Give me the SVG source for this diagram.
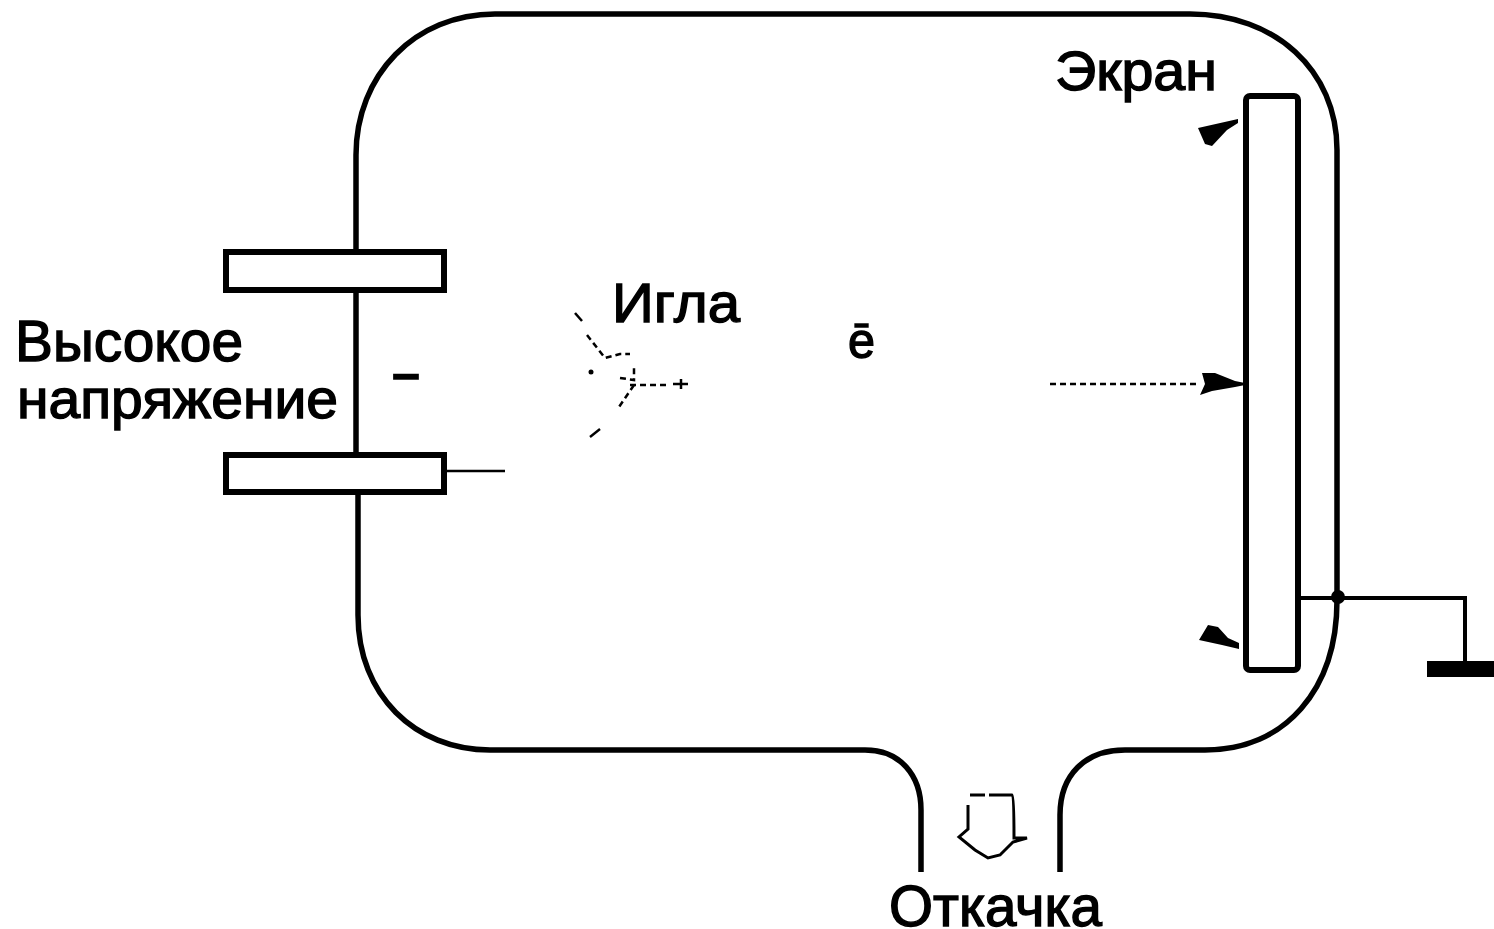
<svg xmlns="http://www.w3.org/2000/svg" width="1494" height="929" viewBox="0 0 1494 929">
<style>
.w{fill:none;stroke:#000;stroke-width:5.5}
.g{fill:none;stroke:#000;stroke-width:4}
.p{fill:none;stroke:#000;stroke-width:3}
.b{fill:#fff;stroke:#000;stroke-width:6}
.d{fill:none;stroke:#000;stroke-width:2.5;stroke-dasharray:6 4}
.t{fill:none;stroke:#000;stroke-width:2.5}
.a{fill:#000;stroke:none}
text{font-family:"Liberation Sans",Arial,sans-serif;fill:#000;stroke:#000;stroke-width:1.4}
</style>
<rect width="1494" height="929" fill="#fff"/>
<g id="connectors">
<path class="w" d="M356 251V155C356 75 415 14 495 14H1190C1275 14 1337 70 1337 150V600C1337 690 1285 750 1205 750H1125C1085 750 1060 775 1060 815V872"/>
<path class="w" d="M921 872V810C921 775 900 750 865 750H490C415 750 358 695 358 615V493"/>
<path class="w" d="M356 291V453"/>
<path class="g" d="M1298 598H1465V662"/>
<path class="t" d="M445 471H505"/>
<path class="d" d="M1050 384H1200"/>
<path class="t" d="M575 313L582 321"/>
<path class="d" d="M587 335L605 358L620 354H630"/>
<path class="d" d="M620 378L634 380V367M630 385H668"/>
<path class="t" d="M673 384H688M681 379V389"/>
<path class="d" d="M634 385L619 407"/>
<path class="t" d="M590 437L600 429"/>
<circle class="a" cx="591" cy="372" r="2.5"/>
<path class="a" d="M1198 128L1238 119V123L1227 130L1212 146L1205 144Z"/>
<path class="a" d="M1202 373L1215 373L1235 381L1245 383V385L1235 387L1212 391L1200 395L1205 384Z"/>
<path class="a" d="M1199 640L1208 625L1218 627L1228 638L1239 643V649L1222 645Z"/>
<circle class="a" cx="1338" cy="597" r="7"/>
<path class="a" d="M1427 661H1494V677H1427Z"/>
<path class="p" d="M970 795H985M989 795H1012C1014 796 1014 830 1014 838H1027L1013 842L1000 855L988 858L975 850L959 837L968 829V805"/>
</g>
<g id="vessel-electrodes">
<g id="electrode-top"><rect class="b" x="226" y="252" width="218" height="38"/></g>
<g id="electrode-bottom"><rect class="b" x="226" y="455" width="218" height="37"/></g>
<g id="screen"><rect class="b" x="1246" y="96" width="52" height="574" rx="4"/></g>
</g>
<g id="labels">
<text x="1055" y="90" font-size="56" textLength="162" lengthAdjust="spacingAndGlyphs">Экран</text>
<text x="612" y="322" font-size="56" textLength="128" lengthAdjust="spacingAndGlyphs">Игла</text>
<text x="15" y="361" font-size="58" textLength="228" lengthAdjust="spacingAndGlyphs">Высокое</text>
<text x="17" y="418" font-size="56" textLength="321" lengthAdjust="spacingAndGlyphs">напряжение</text>
<text x="889" y="926" font-size="58" textLength="213" lengthAdjust="spacingAndGlyphs">Откачка</text>
<text x="848" y="358" font-size="50" textLength="27" lengthAdjust="spacingAndGlyphs">ē</text>
<text x="390" y="392" font-size="58" textLength="32" lengthAdjust="spacingAndGlyphs">-</text>
</g>
</svg>
